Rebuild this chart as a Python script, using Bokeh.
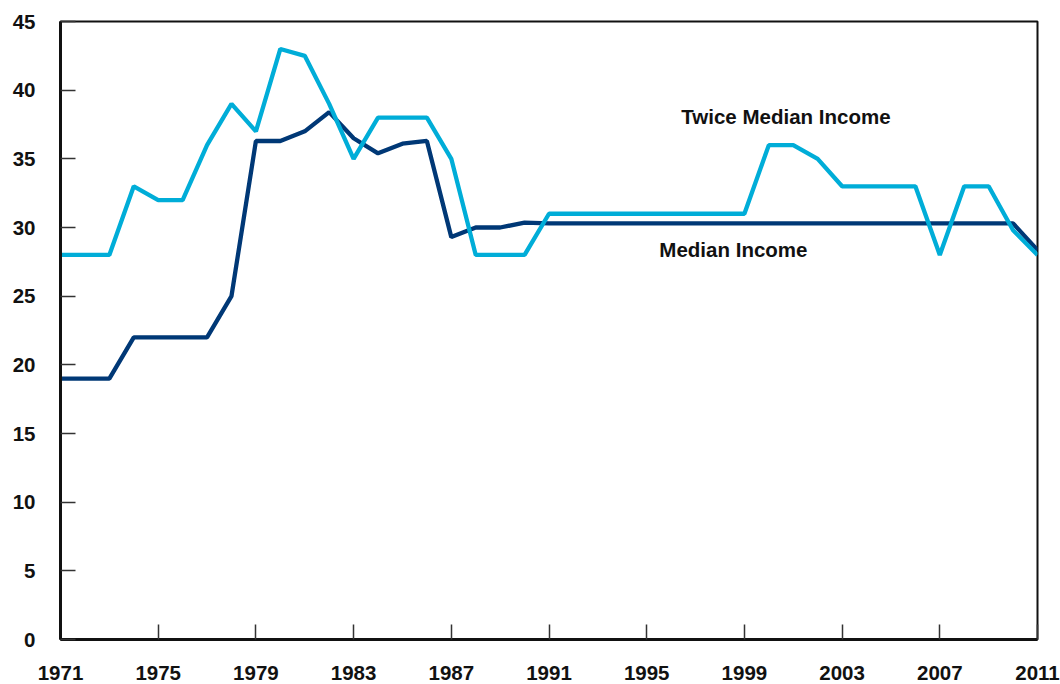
from bokeh.plotting import figure
from bokeh.models import FixedTicker, Range1d, Label
from bokeh.embed import file_html
from bokeh.resources import INLINE

years = list(range(1971, 2012))
median_income = [19, 19, 19, 22, 22, 22, 22, 25, 36.3, 36.3,
                 37.0, 38.4, 36.5, 35.4, 36.1, 36.3, 29.3, 30.0, 30.0, 30.35,
                 30.3, 30.3, 30.3, 30.3, 30.3, 30.3, 30.3, 30.3, 30.3, 30.3,
                 30.3, 30.3, 30.3, 30.3, 30.3, 30.3, 30.3, 30.3, 30.3, 30.3,
                 28.35]
twice_median = [28, 28, 28, 33, 32, 32, 36, 39, 37, 43,
                42.5, 39, 35, 38, 38, 38, 35, 28, 28, 28,
                31, 31, 31, 31, 31, 31, 31, 31, 31, 36,
                36, 35, 33, 33, 33, 33, 28, 33, 33, 29.8,
                28]
x_ticks = list(range(1971, 2012, 4))
y_ticks = list(range(0, 46, 5))

FONT = "Liberation Sans"

p = figure(width=1060, height=684, output_backend="svg", toolbar_location=None,
           x_range=Range1d(1971, 2011), y_range=Range1d(0, 45),
           min_border_left=60, min_border_right=23, min_border_top=21, min_border_bottom=45)
p.background_fill_color = "white"
p.border_fill_color = "white"
p.outline_line_color = "#111111"
p.outline_line_width = 2
p.grid.visible = False

p.line(years, median_income, line_color="#003876", line_width=4.3)
p.line(years, twice_median, line_color="#00ADD8", line_width=4.3)

for ax in (p.xaxis[0], p.yaxis[0]):
    ax.axis_line_color = "#111111"
    ax.axis_line_width = 3
    ax.major_tick_in = 15
    ax.major_tick_out = 0
    ax.major_tick_line_color = "#333333"
    ax.major_tick_line_width = 1.5
    ax.minor_tick_line_color = None
    ax.major_label_text_font = FONT
    ax.major_label_text_font_style = "bold"
    ax.major_label_text_font_size = "20.5px"
    ax.major_label_text_color = "#111111"

p.xaxis.ticker = FixedTicker(ticks=x_ticks)
p.yaxis.ticker = FixedTicker(ticks=y_ticks)
p.xaxis.major_label_standoff = 26
p.yaxis.major_label_standoff = 25

p.add_layout(Label(x=2000.7, y=38.05, text="Twice Median Income", text_align="center",
                   text_baseline="middle", text_font=FONT, text_font_style="bold",
                   text_font_size="20.5px", text_color="#111111"))
p.add_layout(Label(x=1998.55, y=28.43, text="Median Income", text_align="center",
                   text_baseline="middle", text_font=FONT, text_font_style="bold",
                   text_font_size="20.5px", text_color="#111111"))

open("out.html", "w").write(file_html(p, INLINE))
